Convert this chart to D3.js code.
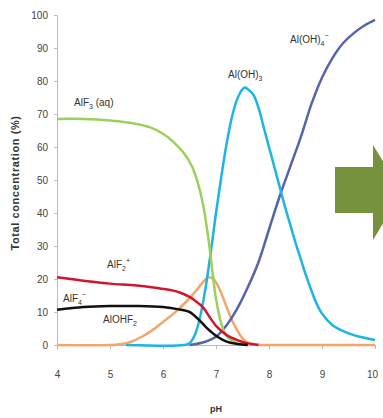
<!doctype html>
<meta charset="utf-8">
<title>Al species vs pH</title>
<script src="https://cdn.jsdelivr.net/npm/d3@7/dist/d3.min.js"></script>
<style>
  body { margin: 0; background: #fff; }
  text { font-family: "Liberation Sans Narrow", "Arial Narrow", "Liberation Sans", sans-serif; fill: #333; }
</style>
<div id="chart"></div>
<script>
  // pH ticks and concentration ticks
  const xTicks = [4, 5, 6, 7, 8, 9, 10]
  const yTicks = [0, 10, 20, 30, 40, 50, 60, 70, 80, 90, 100]

  // [pH, %]
  const alf3 = [[4, 68.5], [4.5, 68.5], [5, 68], [5.5, 67], [5.75, 66], [6, 64], [6.2, 61.5], [6.4, 58], [6.55, 54],
    [6.65, 49.5], [6.75, 43], [6.85, 33], [6.92, 24], [7, 14], [7.1, 6.5], [7.2, 2.8], [7.4, 0.5], [7.6, 0]]
  const alf2 = [[4, 20.5], [4.5, 19.5], [5, 18.6], [5.5, 18], [6, 17], [6.3, 16], [6.5, 14.6], [6.6, 13.5],
    [6.75, 11.5], [6.9, 8], [7, 5.8], [7.2, 3], [7.4, 1.5], [7.6, 0.5], [7.8, 0]]
  const alf4 = [[4, 10.7], [4.5, 11.5], [5, 11.8], [5.5, 11.8], [6, 11.5], [6.3, 10.8], [6.5, 10], [6.6, 8.8],
    [6.7, 7.3], [6.8, 5.6], [6.9, 4.1], [7, 2.8], [7.2, 1], [7.4, 0.3], [7.6, 0]]
  const alohf2 = [[4, 0], [5, 0], [5.2, 0.2], [5.4, 1], [5.6, 2.5], [5.8, 4.5], [6, 7], [6.2, 9.5], [6.4, 12.5],
    [6.6, 16], [6.75, 19], [6.85, 20.5], [6.95, 20], [7.05, 17.5], [7.2, 11.5], [7.3, 7.5], [7.4, 4.5],
    [7.5, 2], [7.6, 0.7], [7.8, 0.1], [8, 0], [10, 0]]
  const aloh3 = [[5.3, 0], [6.4, 0], [6.5, 0.5], [6.6, 3], [6.7, 8.5], [6.8, 17], [6.9, 28], [7, 40], [7.1, 51],
    [7.2, 61], [7.3, 69], [7.4, 74.5], [7.5, 77.5], [7.55, 78], [7.6, 77.5], [7.7, 76], [7.8, 72], [7.9, 66],
    [8, 60], [8.1, 54], [8.2, 48], [8.3, 42], [8.4, 36.5], [8.5, 31], [8.6, 26], [8.7, 21], [8.8, 16.5],
    [8.9, 12.5], [9, 9.5], [9.2, 6], [9.4, 4.2], [9.6, 3], [9.8, 2.2], [10, 1.5]]
  const aloh4 = [[6.5, 0], [6.8, 1], [7, 2.5], [7.2, 6], [7.4, 11], [7.6, 17.5], [7.8, 25], [8, 35], [8.2, 45],
    [8.4, 54], [8.6, 63], [8.8, 73], [9, 81], [9.2, 87], [9.4, 91.5], [9.6, 94.5], [9.8, 96.8], [10, 98.5]]

  const svg = d3.select('#chart')
    .append('svg')
    .attr('width', 383)
    .attr('height', 418)

  const x = d3.scaleLinear().domain([4, 10]).range([57, 375])
  const y = d3.scaleLinear().domain([0, 100]).range([345, 15])

  // green arrow on the right edge
  svg.append('path')
    .attr('d', 'M335,167 L373,167 L373,145 L402,192 L373,240 L373,213 L335,213 Z')
    .attr('fill', '#76923c')

  // axes
  const gx = svg.append('g')
    .attr('transform', 'translate(0,345)')
    .call(d3.axisBottom(x).tickValues(xTicks).tickFormat(d3.format('d')).tickSize(4).tickPadding(22))
  const gy = svg.append('g')
    .attr('transform', 'translate(57,0)')
    .call(d3.axisLeft(y).tickValues(yTicks).tickSize(3).tickPadding(6))
  for (const g of [gx, gy]) {
    g.select('.domain').attr('stroke', '#bbb')
    g.selectAll('.tick line').attr('stroke', '#bbb')
    g.selectAll('.tick text').attr('font-size', 10).style('fill', '#444')
  }
  gx.selectAll('.tick text').filter(d => d === 10).attr('dx', -3)

  const line = d3.line()
    .x(d => x(d[0]))
    .y(d => y(d[1]))
    .curve(d3.curveCatmullRom.alpha(0.5))

  const series = [
    { data: alohf2, color: '#f5a56a' },
    { data: aloh4, color: '#5664aa' },
    { data: aloh3, color: '#1cb4e4' },
    { data: alf3, color: '#9bd15a' },
    { data: alf2, color: '#d2152f' },
    { data: alf4, color: '#111111' }
  ]

  svg.selectAll('path.curve')
    .data(series)
    .enter()
    .append('path')
    .attr('class', 'curve')
    .attr('d', d => line(d.data))
    .attr('fill', 'none')
    .attr('stroke', d => d.color)
    .attr('stroke-width', 2.5)

  // species labels: [base, sub, tail, x, y, tail is superscript]
  const labels = [
    ['AlF', '3', ' (aq)', 74, 106, false],
    ['AlF', '2', '+', 107, 268, true],
    ['AlF', '4', '\u2212', 63, 302, true],
    ['AlOHF', '2', '', 103, 323, false],
    ['Al(OH)', '3', '', 228, 78, false],
    ['Al(OH)', '4', '\u2212', 290, 43, true]
  ]
  labels.forEach(([base, sub, tail, lx, ly, sup]) => {
    const t = svg.append('text').attr('x', lx).attr('y', ly).attr('font-size', 10)
    t.append('tspan').text(base)
    t.append('tspan').attr('font-size', 7).attr('dy', 3).text(sub)
    if (sup) {
      t.append('tspan').attr('font-size', 7).attr('dy', -8).text(tail)
    } else if (tail) {
      t.append('tspan').attr('dy', -3).text(tail)
    }
  })

  svg.append('text')
    .attr('transform', 'translate(19,183) rotate(-90)')
    .attr('text-anchor', 'middle')
    .attr('font-size', 11)
    .attr('font-weight', 'bold')
    .attr('letter-spacing', 0.6)
    .style('font-family', 'Liberation Sans, Arial, sans-serif')
    .text('Total concentration (%)')

  svg.append('text')
    .attr('x', 216)
    .attr('y', 412)
    .attr('text-anchor', 'middle')
    .attr('font-size', 9)
    .attr('font-weight', 'bold')
    .text('pH')
</script>
